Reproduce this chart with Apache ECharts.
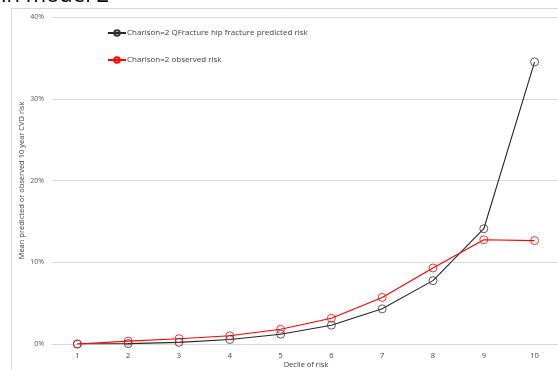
<!DOCTYPE html>
<html>
<head>
<meta charset="utf-8">
<script src="https://cdn.jsdelivr.net/npm/echarts@6/dist/echarts.min.js"></script>
<style>
html,body{margin:0;padding:0;background:#fff;overflow:hidden;}
#c{width:558px;height:370px;}
</style>
</head>
<body>
<div id="c"></div>
<script>
var categories = ['1','2','3','4','5','6','7','8','9','10'];
var predicted = [0.0, 0.05, 0.2, 0.55, 1.2, 2.3, 4.3, 7.75, 14.1, 34.5];
var observed = [0.0, 0.35, 0.65, 1.0, 1.8, 3.15, 5.7, 9.3, 12.75, 12.65];
var yTicks = [0, 10, 20, 30, 40];
var titleText = 'in model 2';

var FONT = 'Open Sans';
var chart = echarts.init(document.getElementById('c'));
chart.setOption({
  animation: false,
  graphic: [{
    type: 'rect', shape: {x: 11.5, y: 8.5, width: 560, height: 380},
    style: {fill: 'none', stroke: '#d9d9d9', lineWidth: 1}, silent: true, z: -1
  }, {
    type: 'text', x: 1, y: 7, silent: true,
    style: {text: titleText, fontFamily: FONT, fontSize: 22, fill: '#000', verticalAlign: 'bottom', align: 'left'}
  }],
  legend: {
    orient: 'vertical', left: 102, top: 24, itemGap: 19,
    itemWidth: 18, itemHeight: 7,
    textStyle: {fontFamily: FONT, fontSize: 8, color: '#404040', padding: [0,0,0,-4]},
    data: ['Charlson=2 QFracture hip fracture predicted risk', 'Charlson=2 observed risk']
  },
  grid: {left: 52, top: 17, width: 508, height: 327, containLabel: false, outerBoundsMode: 'none'},
  xAxis: {
    type: 'category', data: categories, boundaryGap: true,
    name: 'Decile of risk', nameLocation: 'middle', nameGap: 17, nameMoveOverlap: false,
    nameTextStyle: {fontFamily: FONT, fontSize: 7.5, color: '#404040'},
    axisLine: {lineStyle: {color: '#d9d9d9'}},
    axisTick: {show: false},
    axisLabel: {fontFamily: FONT, fontSize: 7.5, color: '#404040', margin: 8}
  },
  yAxis: {
    type: 'value', min: 0, max: 40, interval: 10,
    name: 'Mean predicted or observed 10 year CVD risk', nameLocation: 'middle', nameGap: 26, nameMoveOverlap: false,
    nameTextStyle: {fontFamily: FONT, fontSize: 7.5, color: '#404040'},
    axisLine: {show: false}, axisTick: {show: false},
    axisLabel: {fontFamily: FONT, fontSize: 7, color: '#595959', margin: 8,
      formatter: function (v) { return yTicks.indexOf(v) >= 0 ? v + '%' : ''; }},
    splitLine: {lineStyle: {color: '#d9d9d9'}}
  },
  series: [{
    name: 'Charlson=2 QFracture hip fracture predicted risk',
    type: 'line', data: predicted,
    symbol: 'circle', symbolSize: 8,
    itemStyle: {color: 'rgba(255,255,255,0)', borderColor: '#333333', borderWidth: 0.8},
    lineStyle: {color: '#262626', width: 1.1}
  }, {
    name: 'Charlson=2 observed risk',
    type: 'line', data: observed,
    symbol: 'circle', symbolSize: 8,
    itemStyle: {color: 'rgba(255,255,255,0)', borderColor: '#ff0000', borderWidth: 0.8},
    lineStyle: {color: '#ff0000', width: 1.1}
  }]
});
</script>
</body>
</html>
